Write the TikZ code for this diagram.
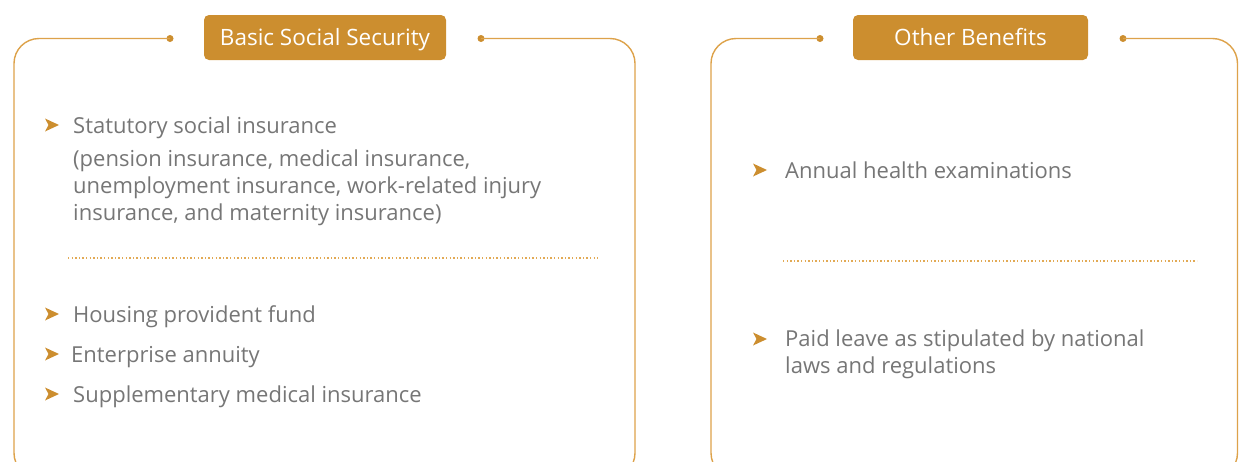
\documentclass[tikz,border=0pt]{standalone}
\usepackage{fontspec}
\setmainfont{Open Sans}
\definecolor{gold}{HTML}{CC8E2F}
\definecolor{frame}{HTML}{DDA24A}
\definecolor{dotline}{HTML}{E2AA55}
\definecolor{txt}{HTML}{767676}
\begin{document}
\begin{tikzpicture}[x=1pt,y=-1pt,
  framepath/.style={draw=frame,line width=1.4pt,rounded corners=25pt},
  enddot/.style={circle,fill=gold,inner sep=0pt,minimum size=7pt},
  titlebox/.style={fill=gold,rounded corners=5pt,text=white,font=\fontsize{22.5}{26}\selectfont,minimum height=45pt,inner sep=0pt,text height=18pt,text depth=2pt},
  item/.style={anchor=base west,text=txt,font=\fontsize{22}{27}\selectfont,inner sep=0pt,align=left},
  sep/.style={draw=dotline,line width=1.4pt,dash pattern=on 1.4pt off 2.2pt},
  bul/.style={fill=gold}]
\useasboundingbox (0,0) rectangle (1239,461);
\begin{scope}
\clip (0,0) rectangle (1239,461);
% left panel frame
\node[enddot] (dl) at (170,38.5) {};
\node[enddot] (dr) at (481,38.5) {};
\draw[framepath] (dl.center) -- (14,38.5) -- (14,478) -- (635,478) -- (635,38.5) -- (dr.center);
% right panel frame
\node[enddot] (el) at (820,38.5) {};
\node[enddot] (er) at (1123,38.5) {};
\draw[framepath] (el.center) -- (711,38.5) -- (711,478) -- (1237.5,478) -- (1237.5,38.5) -- (er.center);
\end{scope}
% titles
\node[titlebox,minimum width=242pt] (t1) at (325,37.5) {Basic Social Security};
\node[titlebox,minimum width=235pt] (t2) at (970.5,37.5) {Other Benefits};
% bullets
\newcommand{\bulletarrow}[2]{\fill[bul] (#1+14,#2) -- (#1,#2-6.5) -- (#1+3.5,#2) -- (#1,#2+6.5) -- cycle;}
\bulletarrow{45}{125}
\bulletarrow{45}{314}
\bulletarrow{45}{354}
\bulletarrow{45}{394}
\bulletarrow{753}{170}
\bulletarrow{753}{339}
% left texts
\node[item] (a1) at (73,133) {Statutory social insurance};
\node[item] (a2) at (73,220) {(pension insurance, medical insurance,\\unemployment insurance, work-related injury\\insurance, and maternity insurance)};
\draw[sep] (68,258) -- (598,258);
\node[item] (a3) at (73,322) {Housing provident fund};
\node[item] (a4) at (71,362) {Enterprise annuity};
\node[item] (a5) at (73,402) {Supplementary medical insurance};
% right texts
\node[item] (b1) at (785,178) {Annual health examinations};
\draw[sep] (783,261) -- (1197,261);
\node[item] (b2) at (785,373) {Paid leave as stipulated by national\\laws and regulations};
\end{tikzpicture}
\end{document}
